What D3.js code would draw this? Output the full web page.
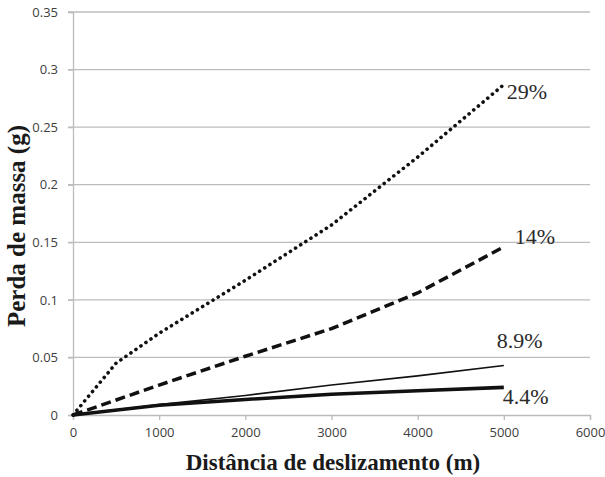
<!DOCTYPE html>
<html>
<head>
<meta charset="utf-8">
<script src="https://cdn.jsdelivr.net/npm/d3@7"></script>
<style>
  html, body { margin: 0; padding: 0; background: #fff; }
  svg { display: block; }
</style>
</head>
<body>
<svg id="chart" width="605" height="477"></svg>
<script>
// Mass loss vs. sliding distance for four reinforcement contents
const distances = [0, 500, 1000, 2000, 3000, 4000, 5000];
const loss29 = [0, 0.045, 0.071, 0.117, 0.165, 0.224, 0.287];
const distancesB = [0, 1000, 2000, 3000, 4000, 5000];
const loss14 = [0, 0.026, 0.051, 0.075, 0.106, 0.146];
const loss89 = [0, 0.009, 0.017, 0.026, 0.034, 0.043];
const loss44 = [0, 0.0085, 0.0135, 0.018, 0.021, 0.024];
const seriesLabels = ["29%", "14%", "8.9%", "4.4%"];
const xTicks = [0, 1000, 2000, 3000, 4000, 5000, 6000];
const yTicks = [0, 0.05, 0.1, 0.15, 0.2, 0.25, 0.3, 0.35];

const svg = d3.select("#chart");
const x = d3.scaleLinear().domain([0, 6000]).range([73, 590]);
const y = d3.scaleLinear().domain([0, 0.35]).range([415, 12]);

// horizontal gridlines
svg.append("g")
  .selectAll("line")
  .data(yTicks.filter(d => d > 0))
  .join("line")
  .attr("x1", x(0) - 5).attr("x2", x(6000))
  .attr("y1", d => y(d)).attr("y2", d => y(d))
  .attr("stroke", "#bcbcbc").attr("stroke-width", 1.3);

// y axis
const yAxis = svg.append("g")
  .attr("transform", `translate(${x(0)},0)`)
  .call(d3.axisLeft(y).tickValues(yTicks).tickFormat(d => String(d)).tickSize(5).tickPadding(10));
// x axis
const xAxis = svg.append("g")
  .attr("transform", `translate(0,${y(0)})`)
  .call(d3.axisBottom(x).tickValues(xTicks).tickFormat(d => String(d)).tickSize(5).tickPadding(8));

[yAxis, xAxis].forEach(g => {
  g.select(".domain").attr("stroke", "#bcbcbc").attr("stroke-width", 1.3);
  g.selectAll(".tick line").attr("stroke", "#bcbcbc").attr("stroke-width", 1.3);
  g.selectAll(".tick text")
    .attr("fill", "#404040")
    .style("font-family", "'Open Sans', 'Liberation Sans', sans-serif")
    .style("font-size", "13px");
});

const line = d3.line().x(d => x(d[0])).y(d => y(d[1]));
const zip = (xs, ys) => xs.map((v, i) => [v, ys[i]]);

const series = [
  { pts: zip(distances, loss29), width: 3.6, dash: "0.1 6", cap: "round" },
  { pts: zip(distancesB, loss14), width: 3.5, dash: "10 5", cap: "butt" },
  { pts: zip(distancesB, loss89), width: 1.6, dash: null, cap: "butt" },
  { pts: zip(distancesB, loss44), width: 3.6, dash: null, cap: "butt" }
];

svg.append("g")
  .selectAll("path")
  .data(series)
  .join("path")
  .attr("d", d => line(d.pts))
  .attr("fill", "none")
  .attr("stroke", "#111")
  .attr("stroke-width", d => d.width)
  .attr("stroke-dasharray", d => d.dash)
  .attr("stroke-linecap", d => d.cap)
  .attr("stroke-linejoin", "round");

// end-of-line labels
const labelPos = [
  { dx: 3, y: 99 },
  { dx: 11, y: 244 },
  { dx: -7, y: 348 },
  { dx: -1, y: 404 }
];
svg.append("g")
  .selectAll("text")
  .data(seriesLabels)
  .join("text")
  .attr("x", (d, i) => x(5000) + labelPos[i].dx)
  .attr("y", (d, i) => labelPos[i].y)
  .attr("fill", "#2a2a2a")
  .style("font-family", "'Liberation Serif', 'Times New Roman', serif")
  .style("font-size", "22px")
  .text(d => d);

// axis titles
svg.append("text")
  .attr("transform", `translate(25,226) rotate(-90)`)
  .attr("text-anchor", "middle")
  .attr("fill", "#1a1a1a")
  .style("font-family", "'Liberation Serif', 'Times New Roman', serif")
  .style("font-weight", "bold")
  .style("font-size", "25px")
  .text("Perda de massa (g)");

svg.append("text")
  .attr("x", 333)
  .attr("y", 470)
  .attr("text-anchor", "middle")
  .attr("fill", "#1a1a1a")
  .style("font-family", "'Liberation Serif', 'Times New Roman', serif")
  .style("font-weight", "bold")
  .style("font-size", "23px")
  .text("Distância de deslizamento (m)");
</script>
</body>
</html>
